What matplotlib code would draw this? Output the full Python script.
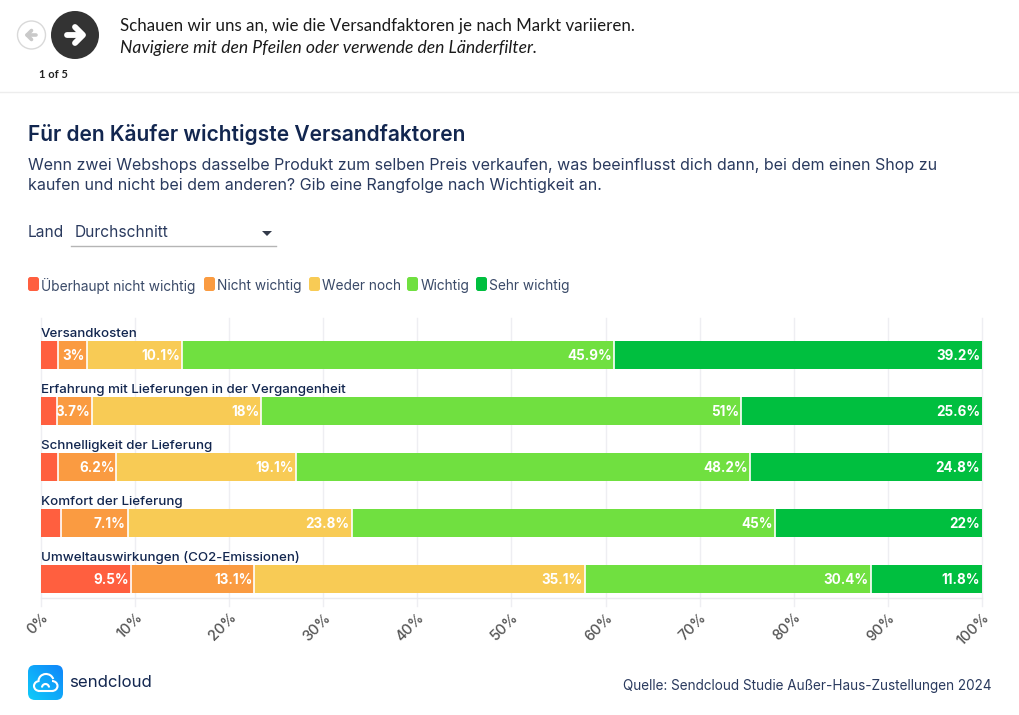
import matplotlib
matplotlib.use("Agg")
import matplotlib.pyplot as plt
import numpy as np
from matplotlib.patches import Arc, Circle, FancyBboxPatch, Polygon

categories = ["Versandkosten", "Erfahrung mit Lieferungen in der Vergangenheit",
              "Schnelligkeit der Lieferung", "Komfort der Lieferung",
              "Umweltauswirkungen (CO2-Emissionen)"]
series_names = ["Überhaupt nicht wichtig", "Nicht wichtig", "Weder noch", "Wichtig", "Sehr wichtig"]
ueberhaupt = [1.8, 1.7, 1.8, 2.1, 9.54]
nicht = [3.04, 3.7, 6.2, 7.1, 13.14]
weder = [10.14, 18, 19.1, 23.8, 35.1]
wichtig = [45.9, 51, 48.2, 45, 30.4]
sehr = [39.2, 25.6, 24.8, 22, 11.8]
show_label = [[False]*4 + [True], [True]*5, [True]*5, [True]*5, [True]*5]
colors = ["#FF5F3F", "#FA9B41", "#F8CB55", "#70E040", "#00BF3F"]
ticks = list(range(0, 101, 10))
W, H = 1020, 715
NAVY = "#12264F"
TEXT = "#2A3A5E"

fig = plt.figure(figsize=(W/100, H/100), dpi=100, facecolor="white")
bg = fig.add_axes([0, 0, 1, 1])
bg.set_xlim(0, W); bg.set_ylim(H, 0); bg.axis("off")

# header
bg.plot([0, W], [92, 92], color="#EDEDED", lw=1)
bg.add_patch(Circle((31.5, 35), 14, fc="white", ec="#D9D9D9", lw=1))
bg.plot([36.5, 27.5], [35, 35], color="#C9C9C9", lw=2.6, solid_capstyle="round")
bg.plot([31.5, 27, 31.5], [30.5, 35, 39.5], color="#C9C9C9", lw=2.6, solid_capstyle="round", solid_joinstyle="round")
bg.add_patch(Circle((75, 35), 24, fc="#333333", ec="none"))
bg.plot([67, 82], [35, 35], color="white", lw=4.2, solid_capstyle="round")
bg.plot([75, 83, 75], [27, 35, 43], color="white", lw=4.2, solid_capstyle="round", solid_joinstyle="round")
bg.text(53, 74, "1 of 5", fontsize=8, fontweight="bold", ha="center", va="center", color="#222222", family="Lato")
bg.text(120, 25.5, "Schauen wir uns an, wie die Versandfaktoren je nach Markt variieren.", fontsize=12.13,
        va="center", color="#1A1A1A", family="Lato")
bg.text(120, 48.5, "Navigiere mit den Pfeilen oder verwende den Länderfilter.", fontsize=12.65, style="italic",
        va="center", color="#1A1A1A", family="Lato")

# titles
bg.text(28, 134.5, "Für den Käufer wichtigste Versandfaktoren", fontsize=15.1, fontweight="semibold",
        va="center", color=NAVY, family="Inter")
bg.text(28, 165.5, "Wenn zwei Webshops dasselbe Produkt zum selben Preis verkaufen, was beeinflusst dich dann, bei dem einen Shop zu",
        fontsize=11.54, va="center", color=TEXT, family="Inter")
bg.text(28, 185.5, "kaufen und nicht bei dem anderen? Gib eine Rangfolge nach Wichtigkeit an.",
        fontsize=11.54, va="center", color=TEXT, family="Inter")

# filter
bg.text(28, 232.5, "Land", fontsize=11.2, va="center", color=TEXT, family="Inter")
bg.text(75, 232.5, "Durchschnitt", fontsize=11.2, va="center", color=TEXT, family="Inter")
bg.plot([71, 276], [246, 246], color="#B5B5B5", lw=1)
bg.add_patch(Polygon([[262, 231], [272, 231], [267, 236]], fc="#333A4A", ec="none"))

# legend
lx = [28, 204, 309, 407, 476]
for x, c, n in zip(lx, colors, series_names):
    bg.add_patch(FancyBboxPatch((x+1.5, 278.5), 8, 11, boxstyle="round,pad=1.5,rounding_size=2.5", fc=c, ec="none"))
    bg.text(x+13.5, 286, n, fontsize=9.9, va="center", color="#3A4A68", family="Inter")

# chart
x0, x1, y_top, y_bot = 41, 982, 318, 598
ax = fig.add_axes([x0/W, 1-y_bot/H, (x1-x0)/W, (y_bot-y_top)/H], facecolor="none")
ax.set_xlim(0, 100)
ax.set_ylim(y_bot, y_top)
ypos = [355, 411, 467, 523, 579]
bar_h = 28
left = [0.0]*len(categories)
values = [ueberhaupt, nicht, weder, wichtig, sehr]
for s, (vals, c) in enumerate(zip(values, colors)):
    ax.barh(ypos, vals, left=left, height=bar_h, color=c, edgecolor="none", zorder=2)
    for i, v in enumerate(vals):
        end = left[i] + v
        if end < 99.9:
            ax.plot([end, end], [ypos[i]-bar_h/2, ypos[i]+bar_h/2], color="white", lw=1.2, zorder=3,
                    solid_capstyle="butt")
        if show_label[s][i]:
            ax.text(min(end, 100)-0.2, ypos[i]+0.5, f"{round(v, 1):g}%", color="white", fontsize=9.7, fontweight="bold",
                    ha="right", va="center", family="Inter", zorder=4)
        left[i] = end
for y, n in zip(ypos, categories):
    ax.text(0, y-21.5, n, fontsize=9.6, fontweight="medium", color=NAVY, va="center", ha="left", family="Inter", zorder=4)

for t in ticks:
    ax.plot([t, t], [y_top, y_bot+8], color="#EEEEF2", lw=1, zorder=0, clip_on=False)
ax.plot([0, 100], [y_bot, y_bot], color="#EAEAEE", lw=1, zorder=0, clip_on=False)
ax.set_yticks([])
ax.set_xticks(ticks)
ax.set_xticklabels([f"{t}%" for t in ticks], rotation=45, ha="right", rotation_mode="anchor",
                   fontsize=10.5, fontweight="medium", color="#555555", family="Inter")
ax.tick_params(axis="x", length=0, pad=9)
for sp in ax.spines.values():
    sp.set_visible(False)

# footer logo
logo = FancyBboxPatch((31, 668), 29, 29, boxstyle="round,pad=3,rounding_size=7", fc="none", ec="none")
bg.add_patch(logo)
grad = np.linspace(0, 1, 64)
gx, gy = np.meshgrid(grad, grad)
t = (gx + (1-gy)) / 2
rgb = np.dstack([0.06*np.ones_like(t), 0.80-0.28*t, 0.98*np.ones_like(t)])
im = bg.imshow(rgb, extent=(28, 63, 700, 665), aspect="auto", zorder=1)
im.set_clip_path(logo)
bg.set_xlim(0, W); bg.set_ylim(H, 0)
wk = dict(fc="none", ec="white", lw=1.5, zorder=2)
bg.add_patch(Arc((46, 681), 15, 14, theta1=185, theta2=345, **wk))
bg.add_patch(Arc((39.5, 686), 11, 10, theta1=90, theta2=270, **wk))
bg.add_patch(Arc((52, 686), 11, 10, theta1=270, theta2=90, **wk))
bg.plot([39.5, 52], [691, 691], color="white", lw=1.5, zorder=2)
bg.add_patch(Arc((45.5, 687.5), 7, 7, theta1=180, theta2=360, **wk))
bg.text(69, 682.5, "sendcloud", fontsize=12.1, va="center", color=NAVY, family="Inter")
bg.text(992, 686, "Quelle: Sendcloud Studie Außer-Haus-Zustellungen 2024", fontsize=9.75, va="center", ha="right",
        color=TEXT, family="Inter")

fig.savefig("out.png", dpi=100)
